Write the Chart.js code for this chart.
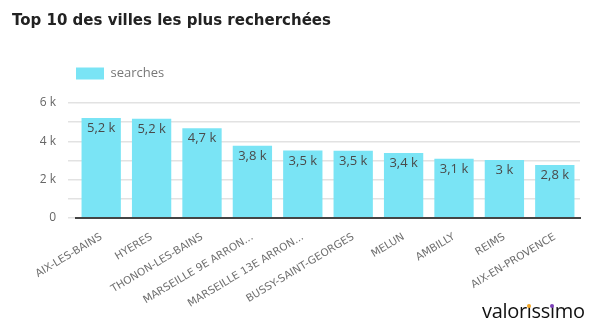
<!DOCTYPE html>
<html>
<head>
<meta charset="utf-8">
<script src="https://cdn.jsdelivr.net/npm/chart.js@4"></script>
<style>
  body { margin: 0; background: #fff; }
  #wrap { position: relative; width: 602px; height: 336px; }
  #logo { position: absolute; left: 482px; top: 297px; font: 20px "Open Sans", sans-serif; color: #111; letter-spacing: -0.3px; }
  #logo .i { position: relative; }
  #logo .dot { position: absolute; left: 50%; top: 7px; width: 4px; height: 4px; margin-left: -2px; border-radius: 2px; }
</style>
</head>
<body>
<div id="wrap">
  <canvas id="citiesChart" width="602" height="336"></canvas>
  <div id="logo">valor<span class="i">ı<span class="dot" style="background:#f5a623"></span></span>ss<span class="i">ı<span class="dot" style="background:#7b3fb8"></span></span>mo</div>
</div>
<script>
// values
var cities = ['AIX-LES-BAINS', 'HYERES', 'THONON-LES-BAINS', 'MARSEILLE 9E ARRONDISSEMENT', 'MARSEILLE 13E ARRONDISSEMENT',
              'BUSSY-SAINT-GEORGES', 'MELUN', 'AMBILLY', 'REIMS', 'AIX-EN-PROVENCE'];
var searches = [5210, 5180, 4680, 3760, 3520, 3510, 3380, 3080, 3020, 2760];
var yTicks = [0, 2000, 4000, 6000];

function kLabel(v) {
    var s = (Math.round(v / 100) / 10).toString().replace('.', ',');
    return v == 0 ? '0' : s + ' k';
}

// small plugin to write the value inside the top of each bar
var barLabels = {
    id: 'barLabels',
    afterDatasetsDraw: function(chart) {
        var ctx = chart.ctx;
        var meta = chart.getDatasetMeta(0);
        ctx.save();
        ctx.font = '13px "Open Sans", sans-serif';
        ctx.fillStyle = '#4a4a4a';
        ctx.textAlign = 'center';
        ctx.textBaseline = 'top';
        meta.data.forEach(function(bar, i) {
            ctx.fillText(kLabel(searches[i]), bar.x, bar.y + 4);
        });
        ctx.restore();
    }
};

// leave some room between the legend and the plot
var legendGap = {
    id: 'legendGap',
    afterInit: function(chart) {
        var fit = chart.legend.fit;
        chart.legend.fit = function() {
            fit.call(this);
            this.height += 13;
        };
    }
};

var ctx = document.getElementById('citiesChart').getContext('2d');
var citiesChart = new Chart(ctx, {
    type: 'bar',
    data: {
        labels: cities,
        datasets: [{
            label: 'searches',
            data: searches,
            backgroundColor: '#7ae4f5',
            barPercentage: 0.78,
            categoryPercentage: 1
        }]
    },
    options: {
        responsive: false,
        animation: false,
        layout: { padding: { left: 12, right: 22, top: 4, bottom: 21 } },
        plugins: {
            title: {
                display: true,
                text: 'Top 10 des villes les plus recherchées',
                align: 'start',
                color: '#222',
                font: { family: '"DejaVu Sans", sans-serif', size: 15, weight: 'bold' },
                padding: { top: 8, bottom: 37 }
            },
            legend: {
                display: true,
                position: 'top',
                align: 'start',
                fullSize: false,
                labels: {
                    boxWidth: 28,
                    boxHeight: 12,
                    color: '#777',
                    font: { family: '"Open Sans", sans-serif', size: 13 },
                    padding: 0
                }
            },
            tooltip: { enabled: false }
        },
        scales: {
            x: {
                grid: { display: false },
                border: { color: '#444', width: 2 },
                ticks: {
                    color: '#707070',
                    padding: 5,
                    minRotation: 31,
                    maxRotation: 31,
                    font: { family: '"DejaVu Sans", sans-serif', size: 10.5 },
                    callback: function(value, index) {
                        return cities[index].replace(/DISSEMENT$/, '...');
                    }
                }
            },
            y: {
                min: 0,
                max: 6000,
                afterFit: function(scale) { scale.width = 64; },
                grid: { color: '#e2e2e2', lineWidth: 1.5 },
                border: { display: false },
                ticks: {
                    stepSize: 1000,
                    autoSkip: false,
                    color: '#666',
                    padding: 12,
                    font: { family: '"Open Sans", sans-serif', size: 12 },
                    callback: function(value) {
                        return yTicks.indexOf(value) >= 0 ? kLabel(value) : '';
                    }
                }
            }
        }
    },
    plugins: [barLabels, legendGap]
});
</script>
</body>
</html>
